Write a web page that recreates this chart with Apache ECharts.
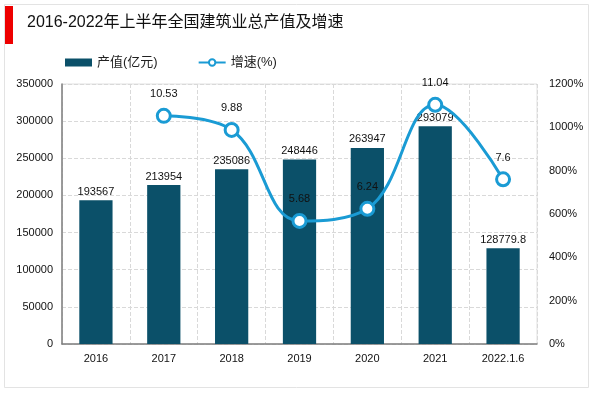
<!DOCTYPE html>
<html><head><meta charset="utf-8">
<script src="https://cdn.jsdelivr.net/npm/echarts@6/dist/echarts.min.js"></script>
<style>html,body{margin:0;padding:0;background:#fff}#c{width:600px;height:393px}</style>
</head><body><div id="c"></div>
<script>
var categories = ['2016','2017','2018','2019','2020','2021','2022.1.6'];
var outputValues = [193567, 213954, 235086, 248446, 263947, 293079, 128779.8];
var growthValues = [null, 10.53, 9.88, 5.68, 6.24, 11.04, 7.6];
var leftTicks = {min: 0, max: 350000, interval: 50000};
var rightTicks = {min: 0, max: 12, interval: 2};

var FONT = '"Liberation Sans", Arial, "Noto Sans CJK SC", sans-serif';
var chart = echarts.init(document.getElementById('c'), null, {renderer: 'canvas'});
chart.setOption({
  animation: false,
  textStyle: {fontFamily: FONT},
  graphic: [
    {type: 'rect', shape: {x: 4.5, y: 4.5, width: 584, height: 383}, style: {fill: 'none', stroke: '#e3e3e3', lineWidth: 1}},
    {type: 'rect', shape: {x: 5, y: 6, width: 8, height: 38}, style: {fill: '#ee0000'}},
    {type: 'text', left: 27, top: 15, style: {text: '2016-2022年上半年全国建筑业总产值及增速', fontSize: 16, fill: '#111', fontFamily: FONT}}
  ],
  legend: {
    top: 51, left: 60, itemGap: 40, itemWidth: 27, itemHeight: 8,
    textStyle: {fontSize: 13, color: '#222', fontFamily: FONT},
    data: [{name: '产值(亿元)', icon: 'rect'}, {name: '增速(%)'}]
  },
  grid: {left: 62, right: 63, top: 84, bottom: 49, show: true, borderColor: '#e0e0e0', borderWidth: 1},
  xAxis: {
    type: 'category', data: categories,
    axisLine: {lineStyle: {color: '#7f7f7f', width: 1.5}},
    axisTick: {show: false},
    axisLabel: {color: '#111', fontSize: 11, margin: 9},
    splitLine: {show: true, lineStyle: {type: 'dashed', color: '#d9d9d9'}}
  },
  yAxis: [
    {type: 'value', min: leftTicks.min, max: leftTicks.max, interval: leftTicks.interval,
     axisLine: {show: true, lineStyle: {color: '#7f7f7f', width: 1.5}},
     axisLabel: {color: '#111', fontSize: 11, margin: 9, formatter: function(v){return String(v);}},
     splitLine: {lineStyle: {type: 'dashed', color: '#d9d9d9'}}},
    {type: 'value', min: rightTicks.min, max: rightTicks.max, interval: rightTicks.interval,
     axisLine: {show: false}, axisTick: {show: false},
     axisLabel: {color: '#111', fontSize: 11, margin: 12, formatter: function(v){return Math.round(v*100)+'%';}},
     splitLine: {show: false}}
  ],
  series: [
    {name: '产值(亿元)', type: 'bar', data: outputValues, barWidth: '49%',
     itemStyle: {color: '#0b5069'},
     label: {show: true, position: 'top', color: '#111', fontSize: 11, distance: 3}},
    {name: '增速(%)', type: 'line', yAxisIndex: 1, data: growthValues, smooth: 0.4,
     symbol: 'circle', symbolSize: 13, connectNulls: false,
     lineStyle: {color: '#1a9bd4', width: 3},
     itemStyle: {color: '#fff', borderColor: '#1a9bd4', borderWidth: 3},
     label: {show: true, position: 'top', color: '#111', fontSize: 11, distance: 8}}
  ]
});
</script></body></html>
